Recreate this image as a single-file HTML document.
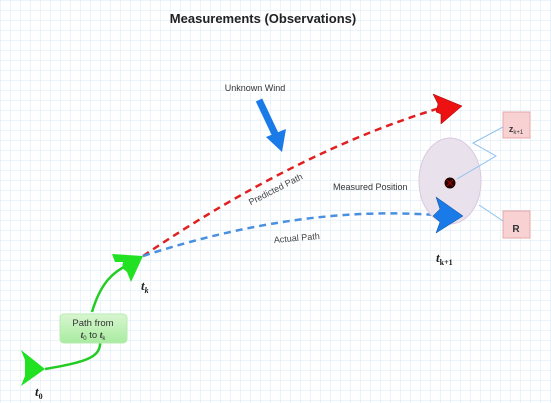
<!DOCTYPE html>
<html><head><meta charset="utf-8"><style>
html,body{margin:0;padding:0;background:#fff}
svg{display:block}
text{font-family:"Liberation Sans",sans-serif}
.m{font-family:"Liberation Serif",serif;font-style:italic;font-weight:bold}
</style></head><body>
<svg width="551" height="403" viewBox="0 0 551 403">
<defs>
<pattern id="g" width="10" height="10" patternUnits="userSpaceOnUse"><path d="M10 0H0V10" fill="none" stroke="#d6e8f4" stroke-width="1"/></pattern>
<linearGradient id="bx" x1="0" y1="0" x2="0" y2="1"><stop offset="0" stop-color="#d8f5d0"/><stop offset="1" stop-color="#a8eca0"/></linearGradient>
</defs>
<rect width="551" height="403" fill="url(#g)"/>
<text x="263" y="23" text-anchor="middle" font-size="13" font-weight="bold" fill="#222">Measurements (Observations)</text>

<path d="M45 369 C85 362 102 358 100 340" fill="none" stroke="#22cc22" stroke-width="2.5"/>
<path d="M92 312 C100 285 112 270 135 262" fill="none" stroke="#22cc22" stroke-width="2.5"/>
<rect x="60" y="314" width="67" height="29" rx="4" fill="url(#bx)" stroke="#b8eab0"/>
<text x="93" y="326" text-anchor="middle" font-size="9.5" fill="#333">Path from</text>
<text x="93" y="338" text-anchor="middle" font-size="9.5" fill="#333"><tspan class="m">t</tspan><tspan font-size="6" dy="2">0</tspan><tspan dy="-2"> to </tspan><tspan class="m">t</tspan><tspan font-size="6" dy="2">k</tspan></text>

<path d="M143 256 Q300 150 440 108" fill="none" stroke="#e02020" stroke-width="2.5" stroke-dasharray="7,5"/>
<path d="M143 256 Q300 205 435 215" fill="none" stroke="#4a90e0" stroke-width="2.5" stroke-dasharray="7,5"/>

<polygon points="21,350 45,369 21,386 25,376 25,360" fill="#22e022"/>
<text x="35" y="396" class="m" font-size="13" fill="#222">t<tspan font-size="8" dy="3" font-style="normal">0</tspan></text>
<polygon points="112,254 143,256 131,282 127,272 122,268 123,262 115,262" fill="#22e022"/>
<text x="141" y="290" class="m" font-size="13" fill="#222">t<tspan font-size="8" dy="3">k</tspan></text>

<ellipse cx="450" cy="181" rx="31" ry="43" fill="#e9e2ec" stroke="#d9c9df"/>
<polygon points="433,94 462,106 441,124 441,114 436,112 438,104" fill="#ee1111" stroke="#900" stroke-width="0.5"/>
<polygon points="436,197 463,216 436,233 440,222 433,216 440,209" fill="#1a7ae8" stroke="#0a4a90" stroke-width="0.5"/>
<circle cx="450" cy="183" r="5.5" fill="#200"/>
<path d="M447 180 L453 186 M453 180 L447 186" stroke="#a00" stroke-width="1"/>
<text x="333" y="190" font-size="9" fill="#333">Measured Position</text>
<text x="436" y="262" class="m" font-size="13" fill="#222">t<tspan font-size="8" dy="3" font-style="normal">k+1</tspan></text>

<rect x="503" y="112" width="27" height="26" fill="#f8d2d2" stroke="#e6a8a8"/>
<text x="516" y="132" text-anchor="middle" font-size="9" font-weight="bold" fill="#333" font-family="Liberation Serif">z<tspan font-size="6" dy="2" font-weight="normal">k+1</tspan></text>
<rect x="503" y="211" width="27" height="27" fill="#f8d2d2" stroke="#e6a8a8"/>
<text x="516" y="232" text-anchor="middle" font-size="10" font-weight="bold" fill="#333" font-family="Liberation Serif">R</text>
<path d="M503 127 L473 143 L496 156 L457 179" fill="none" stroke="#8cc0ee" stroke-width="1"/>
<path d="M503 221 L479 205" fill="none" stroke="#8cc0ee" stroke-width="1"/>

<text x="255" y="91" text-anchor="middle" font-size="9" fill="#333">Unknown Wind</text>
<path d="M259 100 L276 136" stroke="#1a7ae8" stroke-width="7"/>
<polygon points="266,137 286,129 282,152" fill="#1a7ae8"/>
<text x="277" y="192" text-anchor="middle" font-size="9" fill="#444" transform="rotate(-27 277 192)">Predicted Path</text>
<text x="297" y="241" text-anchor="middle" font-size="9" fill="#444" transform="rotate(-5 297 241)">Actual Path</text>
</svg>
</body></html>
